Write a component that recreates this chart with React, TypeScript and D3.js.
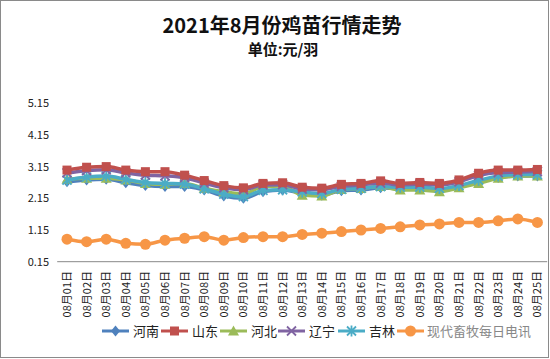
import React from "react";
import * as d3 from "d3";

const days = Array.from({ length: 25 }, (_, i) => `08月${String(i + 1).padStart(2, "0")}日`);
const yTicks = [0.15, 1.15, 2.15, 3.15, 4.15, 5.15];

const henan = [2.67, 2.73, 2.75, 2.64, 2.55, 2.52, 2.52, 2.41, 2.22, 2.15, 2.36, 2.41, 2.31, 2.25, 2.39, 2.41, 2.48, 2.46, 2.48, 2.43, 2.52, 2.67, 2.81, 2.85, 2.85];
const shandong = [3.04, 3.13, 3.15, 3.04, 2.99, 2.99, 2.88, 2.71, 2.55, 2.48, 2.62, 2.64, 2.5, 2.47, 2.59, 2.62, 2.7, 2.62, 2.65, 2.62, 2.73, 2.94, 3.04, 3.04, 3.06];
const hebei = [2.75, 2.78, 2.78, 2.73, 2.62, 2.59, 2.62, 2.47, 2.36, 2.29, 2.52, 2.54, 2.25, 2.22, 2.43, 2.46, 2.52, 2.41, 2.41, 2.36, 2.48, 2.62, 2.78, 2.85, 2.85];
const liaoning = [2.95, 3.02, 3.05, 2.95, 2.88, 2.86, 2.8, 2.63, 2.48, 2.42, 2.57, 2.58, 2.44, 2.42, 2.53, 2.57, 2.63, 2.57, 2.6, 2.57, 2.67, 2.87, 2.96, 2.98, 3.0];
const jilin = [2.72, 2.82, 2.85, 2.75, 2.65, 2.62, 2.6, 2.45, 2.28, 2.2, 2.4, 2.42, 2.35, 2.3, 2.43, 2.46, 2.52, 2.5, 2.5, 2.46, 2.55, 2.72, 2.85, 2.9, 2.9];
const other = [0.86, 0.78, 0.86, 0.73, 0.7, 0.83, 0.89, 0.94, 0.83, 0.91, 0.94, 0.94, 1.01, 1.05, 1.1, 1.15, 1.2, 1.25, 1.31, 1.34, 1.39, 1.39, 1.44, 1.5, 1.39];

// The sixth series' legend label is hidden under the watermark in the reference.
const seriesNames = ["河南", "山东", "河北", "辽宁", "吉林", ""];
const seriesData = [henan, shandong, hebei, liaoning, jilin, other];
const colors = ["#4F81BD", "#C0504D", "#9BBB59", "#8064A2", "#4BACC6", "#F79646"];
const markers = ["diamond", "square", "triangle", "x", "star", "circle"];
const watermark = "现代畜牧每日电讯";

const W = 550, H = 359;
const x = d3.scaleBand().domain(days).range([57.2, 547.2]);
const y = d3.scaleLinear().domain([0.15, 5.15]).range([261.7, 103.2]);

function Marker({ type, cx, cy, color }: { type: string; cx: number; cy: number; color: string }) {
  const s = 4.5;
  if (type === "diamond") return <path d={`M${cx},${cy - s - 1}L${cx + s},${cy}L${cx},${cy + s + 1}L${cx - s},${cy}Z`} fill={color} />;
  if (type === "square") return <rect x={cx - s} y={cy - s} width={2 * s} height={2 * s} fill={color} />;
  if (type === "triangle") return <path d={`M${cx},${cy - s - 1}L${cx + s + 1},${cy + s}L${cx - s - 1},${cy + s}Z`} fill={color} />;
  if (type === "x") return <path d={`M${cx - s},${cy - s}L${cx + s},${cy + s}M${cx - s},${cy + s}L${cx + s},${cy - s}`} stroke={color} strokeWidth={1.8} />;
  if (type === "star") return <path d={`M${cx - s},${cy - s}L${cx + s},${cy + s}M${cx - s},${cy + s}L${cx + s},${cy - s}M${cx},${cy - s - 1}L${cx},${cy + s + 1}`} stroke={color} strokeWidth={1.8} />;
  return <circle cx={cx} cy={cy} r={5.5} fill={color} />;
}

export default function App() {
  const line = d3.line<number>().x((_, i) => x(days[i])! + x.bandwidth() / 2).y((d) => y(d)).curve(d3.curveMonotoneX);
  const font = "'Noto Sans CJK SC', 'Noto Sans', sans-serif";
  const legendX = [102, 161, 220, 278, 338, 397];
  const order = [5, 0, 2, 4, 3, 1];
  return (
    <svg width={W} height={H} style={{ position: "absolute", left: 0, top: 0, background: "#fff" }} fontFamily={font}>
      <rect x={0.5} y={0.5} width={W - 2} height={H - 2} fill="#fff" stroke="#8a8a8a" />
      <text x={282} y={33} textAnchor="middle" fontSize={20} fontWeight="bold" fill="#111">2021年8月份鸡苗行情走势</text>
      <text x={283} y={55} textAnchor="middle" fontSize={15} fontWeight="bold" fill="#111">单位:元/羽</text>
      {yTicks.map((t) => (
        <text key={t} x={49} y={y(t) + 4} textAnchor="end" fontSize={11} fill="#222">{t.toFixed(2)}</text>
      ))}
      <line x1={57.2} x2={547.2} y1={y(0.15)} y2={y(0.15)} stroke="#888" />
      {days.map((d) => (
        <text key={d} transform={`translate(${x(d)! + x.bandwidth() / 2 + 4},${271}) rotate(-90)`} textAnchor="end" fontSize={11} fill="#222">{d}</text>
      ))}
      {order.map((si) => (
        <g key={si}>
          <path d={line(seriesData[si])!} fill="none" stroke={colors[si]} strokeWidth={3.5} />
          {seriesData[si].map((v, i) => (
            <Marker key={i} type={markers[si]} cx={x(days[i])! + x.bandwidth() / 2} cy={y(v)} color={colors[si]} />
          ))}
        </g>
      ))}
      {seriesNames.map((n, i) => (
        <g key={i}>
          <line x1={legendX[i]} x2={legendX[i] + 27} y1={331} y2={331} stroke={colors[i]} strokeWidth={3} />
          <Marker type={markers[i]} cx={legendX[i] + 13.5} cy={331} color={colors[i]} />
          {n && <text x={legendX[i] + 31} y={336} fontSize={13} fill="#222">{n}</text>}
        </g>
      ))}
      <text x={427} y={336} fontSize={13} fill="#888">{watermark}</text>
    </svg>
  );
}
